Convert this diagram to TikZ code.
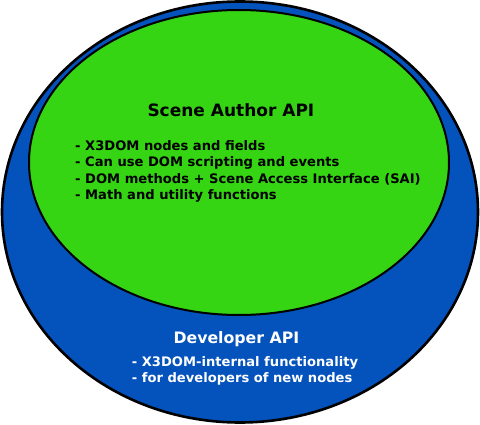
\documentclass[tikz,border=0pt]{standalone}
\usepackage{fontspec}
\setmainfont{DejaVu Sans}
\definecolor{sagreen}{RGB}{53,213,20}
\definecolor{devblue}{RGB}{4,82,187}
\begin{document}
\begin{tikzpicture}[x=1pt,y=-1pt,
  ring/.style={draw=black},
  titletext/.style={anchor=base west,inner sep=0pt,font=\bfseries\fontsize{17}{20}\selectfont},
  itemtext/.style={anchor=base west,inner sep=0pt,font=\bfseries\fontsize{13.1}{16}\selectfont}]
\useasboundingbox (0,0) rectangle (480,425);
\fill[white] (0,0) rectangle (480,425);
\draw[ring,fill=devblue,line width=2.6pt] (240,212) ellipse [x radius=238, y radius=210.5];
\draw[ring,fill=sagreen,line width=2pt] (239,162.5) ellipse [x radius=210, y radius=152.5];
\node[titletext] (sat) at (147.3,116.7) {Scene Author API};
\node[itemtext] (s1) at (75,150.7) {- X3DOM nodes and fields};
\node[itemtext] (s2) at (75,166.9) {- Can use DOM scripting and events};
\node[itemtext] (s3) at (75,183.1) {- DOM methods + Scene Access Interface (SAI)};
\node[itemtext] (s4) at (75,199.3) {- Math and utility functions};
\node[titletext,text=white,font=\bfseries\fontsize{15.75}{19}\selectfont] (dat) at (173.3,344) {Developer API};
\node[itemtext,text=white] (d1) at (131.7,366.7) {- X3DOM-internal functionality};
\node[itemtext,text=white] (d2) at (131.7,382.7) {- for developers of new nodes};
\end{tikzpicture}
\end{document}
